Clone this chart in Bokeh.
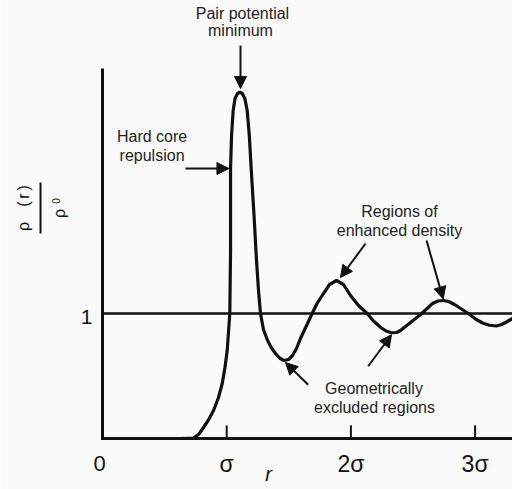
from bokeh.plotting import figure
from bokeh.models import Range1d, Arrow, NormalHead
from bokeh.core.properties import value
from bokeh.embed import file_html
from bokeh.resources import INLINE
import math

# ---- data ----
r_vals = [0.628, 0.733, 0.773, 0.813, 0.853, 0.894, 0.934, 0.964, 0.986, 1.004,
          1.025, 1.031, 1.031, 1.039, 1.052, 1.067, 1.087, 1.105, 1.125, 1.146,
          1.165, 1.182, 1.197, 1.220, 1.240, 1.256, 1.272, 1.296, 1.329, 1.361,
          1.393, 1.425, 1.460, 1.498, 1.530, 1.562, 1.594, 1.643, 1.688, 1.727,
          1.769, 1.828, 1.884, 1.940, 1.997, 2.061, 2.131, 2.182, 2.238, 2.283,
          2.327, 2.367, 2.399, 2.480, 2.568, 2.657, 2.701, 2.743, 2.786, 2.834,
          2.890, 2.949, 3.003, 3.060, 3.116, 3.172, 3.213, 3.253, 3.301]
g_vals = [0.0, 0.004, 0.032, 0.088, 0.148, 0.224, 0.328, 0.44, 0.568, 0.704,
          1.0, 1.504, 2.16, 2.424, 2.624, 2.72, 2.76, 2.77, 2.76, 2.72,
          2.624, 2.424, 2.16, 1.784, 1.424, 1.184, 1.0, 0.872, 0.784, 0.724,
          0.68, 0.644, 0.624, 0.632, 0.664, 0.72, 0.80, 0.904, 1.0, 1.08,
          1.144, 1.232, 1.264, 1.232, 1.144, 1.064, 1.0, 0.94, 0.89, 0.86,
          0.846, 0.848, 0.864, 0.928, 0.998, 1.08, 1.10, 1.104, 1.096, 1.072,
          1.036, 0.998, 0.956, 0.924, 0.906, 0.90, 0.912, 0.932, 0.96]
tick_pos = [1, 2, 3]
tick_labels = ["σ", "2σ", "3σ"]
y_ref = 1
y_ref_label = "1"
origin_label = "0"
x_title = "r"
x_min, x_max = -0.8213, 3.3011
y_min, y_max = -0.408, 3.504
y_axis_top = 2.96

FONT = value("Liberation Sans")
INK = "#111111"

p = figure(width=512, height=489, output_backend="svg", toolbar_location=None,
           x_range=Range1d(x_min, x_max), y_range=Range1d(y_min, y_max),
           min_border=0, outline_line_color=None,
           x_axis_location=None, y_axis_location=None)
p.grid.visible = False
p.background_fill_color = "#fafafa"
p.border_fill_color = "#fafafa"

# axes (L-shaped) and the reference line at 1
p.line([0, 0, x_max + 0.05], [y_axis_top, 0, 0], line_width=3, line_color=INK,
       line_join="miter")
p.line([0, x_max + 0.05], [y_ref, y_ref], line_width=2.5, line_color=INK)

# tick marks pointing up
p.segment(x0=tick_pos, y0=[0] * 3, x1=tick_pos, y1=[0.105] * 3,
          line_width=2, line_color=INK)

# curve
p.line(r_vals, g_vals, line_width=3.2, line_color=INK, line_join="round")

# tick labels
p.text(x=tick_pos, y=[-0.2] * 3, text=tick_labels, text_font=FONT,
       text_font_size="23px", text_align="center", text_baseline="alphabetic",
       text_color=INK)
p.text(x=[-0.024], y=[-0.2], text=[origin_label], text_font=FONT,
       text_font_size="22px", text_align="center", text_baseline="alphabetic",
       text_color=INK)
p.text(x=[-0.129], y=[0.976], text=[y_ref_label], text_font=FONT,
       text_font_size="21px", text_align="center", text_baseline="alphabetic",
       text_color=INK)
p.text(x=[1.337], y=[-0.285], text=[x_title], text_font=FONT,
       text_font_size="20px", text_font_style="italic", text_align="center",
       text_baseline="alphabetic", text_color=INK)

# y label: rho(r) / rho_0, rotated
ang = math.pi / 2
p.text(x=[-0.636, -0.636, -0.636, -0.636], y=[1.696, 1.875, 1.94, 2.005],
       text=["ρ", "(", "r", ")"], angle=ang, text_font=FONT,
       text_font_size="16px", text_align="center", text_baseline="alphabetic",
       text_color=INK)
p.segment(x0=[-0.499], y0=[1.64], x1=[-0.499], y1=[2.048], line_width=2,
          line_color=INK)
p.text(x=[-0.348], y=[1.80], text=["ρ"], angle=ang, text_font=FONT,
       text_font_size="16px", text_align="center", text_baseline="alphabetic",
       text_color=INK)
p.text(x=[-0.374], y=[1.90], text=["0"], angle=ang, text_font=FONT,
       text_font_size="10px", text_align="center", text_baseline="alphabetic",
       text_color=INK)

# annotation texts
ann_x = [1.127, 1.111, 0.399, 0.399, 2.391, 2.391, 2.186, 2.19]
ann_y = [3.404, 3.264, 2.42, 2.264, 1.82, 1.664, 0.40, 0.248]
ann_t = ["Pair potential", "minimum", "Hard core", "repulsion",
         "Regions of", "enhanced density", "Geometrically", "excluded regions"]
p.text(x=ann_x, y=ann_y, text=ann_t, text_font=FONT, text_font_size="16px",
       text_align="center", text_baseline="middle", text_color="#222222")

# arrows
arrows = [
    (1.111, 3.144, 1.111, 2.80),
    (0.668, 2.16, 1.018, 2.16),
    (2.118, 1.56, 1.916, 1.288),
    (2.609, 1.584, 2.743, 1.117),
    (1.656, 0.43, 1.473, 0.608),
    (2.139, 0.578, 2.327, 0.830),
]
for xs, ys, xe, ye in arrows:
    p.add_layout(Arrow(x_start=xs, y_start=ys, x_end=xe, y_end=ye,
                       line_width=2, line_color=INK,
                       end=NormalHead(size=12, fill_color=INK, line_color=INK,
                                      line_width=1)))

open("out.html", "w").write(file_html(p, INLINE))
